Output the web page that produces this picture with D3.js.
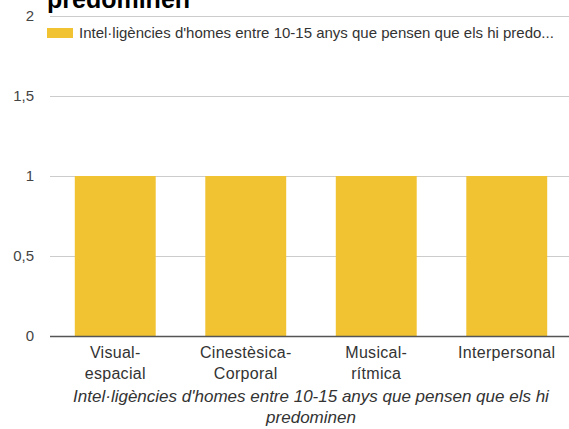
<!DOCTYPE html>
<html>
<head>
<meta charset="utf-8">
<script src="https://cdn.jsdelivr.net/npm/d3@7"></script>
<style>
  body { margin: 0; background: #fff; }
  svg { display: block; font-family: "Liberation Sans", Arial, sans-serif; }
</style>
</head>
<body>
<div class="visContainer"></div>
<script>
// Data.
const categories = ['Visual-espacial', 'Cinestèsica-Corporal', 'Musical-rítmica', 'Interpersonal'];
const values = [1, 1, 1, 1];
const yTicks = [0, 0.5, 1, 1.5, 2];
const seriesName = "Intel·ligències d'homes entre 10-15 anys que pensen que els hi predo...";
const titleText = 'predominen';
const xTitle = ["Intel·ligències d'homes entre 10-15 anys que pensen que els hi", 'predominen'];

// SVG constants.
const width = 569;
const height = 429;

const svg = d3.select('.visContainer')
              .append('svg')
              .attr('width', width)
              .attr('height', height);

// Scales.
const x = d3.scaleBand()
            .domain(categories)
            .range([50, 572])
            .paddingInner(0.38)
            .paddingOuter(0.19);

const y = d3.scaleLinear()
            .domain([0, 2])
            .range([336, 16]);

// Gridlines.
svg.append('g')
   .selectAll('line')
   .data(yTicks.slice(1))
   .enter()
   .append('line')
   .attr('x1', 50)
   .attr('x2', width)
   .attr('y1', (d) => y(d) + 0.5)
   .attr('y2', (d) => y(d) + 0.5)
   .attr('stroke', '#cccccc');

// Y labels.
svg.append('g')
   .selectAll('text')
   .data(yTicks)
   .enter()
   .append('text')
   .attr('x', 34)
   .attr('y', (d) => y(d) + 5)
   .attr('text-anchor', 'end')
   .attr('font-size', 15)
   .attr('fill', '#444')
   .text((d) => String(d).replace('.', ','));

// Bars.
svg.append('g')
   .selectAll('rect')
   .data(values)
   .enter()
   .append('rect')
   .attr('x', (d, i) => x(categories[i]))
   .attr('y', (d) => y(d))
   .attr('width', x.bandwidth())
   .attr('height', (d) => y(0) - y(d))
   .attr('fill', '#f1c232');

// Baseline.
svg.append('line')
   .attr('x1', 50)
   .attr('x2', width)
   .attr('y1', y(0) + 0.5)
   .attr('y2', y(0) + 0.5)
   .attr('stroke', '#555')
   .attr('stroke-width', 1.5);

// X labels.
const xLabels = svg.append('g')
                   .selectAll('text')
                   .data(categories)
                   .enter()
                   .append('text')
                   .attr('text-anchor', 'middle')
                   .attr('font-size', 16)
                   .attr('letter-spacing', 0.3)
                   .attr('fill', '#333');

xLabels.each(function (d) {
    const parts = d.includes('-') ? [d.slice(0, d.indexOf('-') + 1), d.slice(d.indexOf('-') + 1)] : [d];
    d3.select(this)
      .selectAll('tspan')
      .data(parts)
      .enter()
      .append('tspan')
      .attr('x', x(d) + x.bandwidth() / 2)
      .attr('y', (p, i) => 358 + i * 21)
      .text((p) => p);
});

// X axis title.
svg.append('g')
   .selectAll('text')
   .data(xTitle)
   .enter()
   .append('text')
   .attr('x', 311)
   .attr('y', (d, i) => 402 + i * 21)
   .attr('text-anchor', 'middle')
   .attr('font-size', 17)
   .attr('font-style', 'italic')
   .attr('fill', '#333')
   .text((d) => d);

// Legend.
const legend = svg.append('g').attr('id', 'legend');
legend.append('rect')
      .attr('x', 47)
      .attr('y', 28)
      .attr('width', 26)
      .attr('height', 10)
      .attr('fill', '#f1c232');
legend.append('text')
      .attr('x', 79)
      .attr('y', 38)
      .attr('font-size', 15)
      .attr('fill', '#333')
      .text(seriesName);

// Title (only the last line is visible).
svg.append('text')
   .attr('x', 47)
   .attr('y', 8)
   .attr('font-size', 25)
   .attr('font-weight', 'bold')
   .attr('fill', '#000')
   .text(titleText);
</script>
</body>
</html>
